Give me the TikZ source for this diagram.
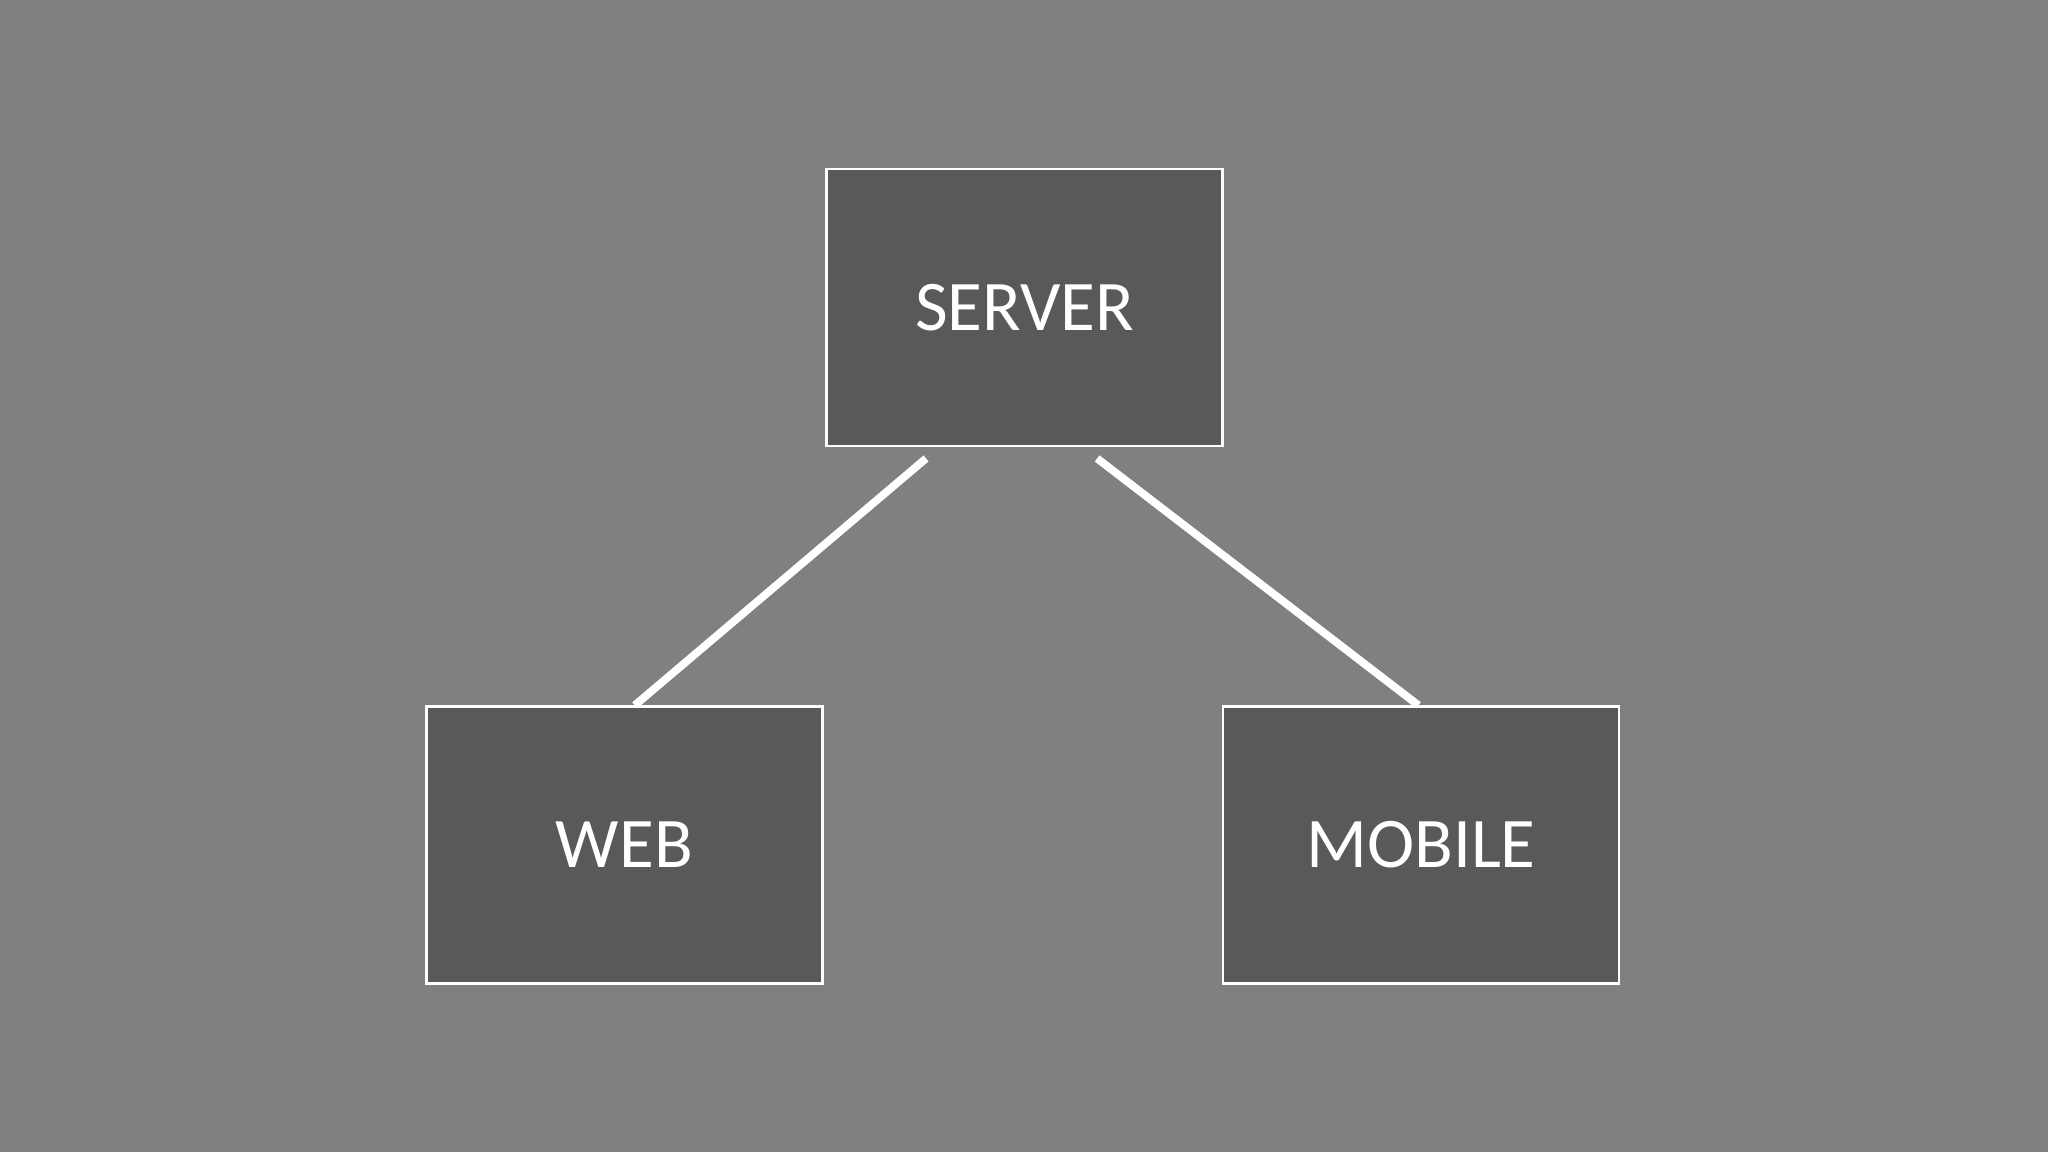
\documentclass[tikz,border=0pt]{standalone}
\usepackage{fontspec}
\setmainfont{Carlito}
\definecolor{bg}{HTML}{808080}
\definecolor{boxc}{HTML}{595959}
\begin{document}
\begin{tikzpicture}[x=0.01cm,y=-0.01cm,
  box/.style={draw=white,line width=0.6pt,fill=boxc,minimum width=3.03cm,minimum height=2.12cm,inner sep=0pt,text=white,font=\fontsize{15.5}{18}\selectfont},
  link/.style={draw=white,line width=1.7pt}]
\fill[bg] (0,0) rectangle (1568,882);
\useasboundingbox (0,0) rectangle (1568,882);
\node[box] (server) at (784.5,235.5) {SERVER};
\node[box] (web) at (478,647) {WEB};
\node[box] (mobile) at (1088,647) {MOBILE};
\coordinate (s1) at (709,351);
\coordinate (s2) at (840,351);
\coordinate (w1) at (486,540);
\coordinate (m1) at (1086,540);
\draw[link] (s1) -- (w1);
\draw[link] (s2) -- (m1);
\end{tikzpicture}
\end{document}
